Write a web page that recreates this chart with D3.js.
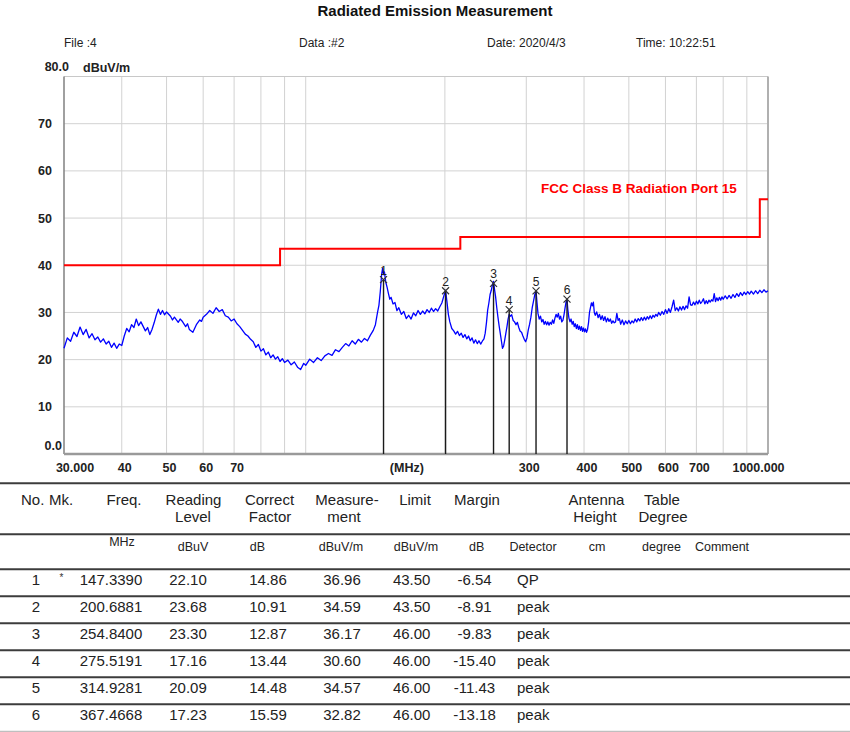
<!DOCTYPE html>
<html>
<head>
<meta charset="utf-8">
<script src="https://cdn.jsdelivr.net/npm/d3@7"></script>
<style>
  body { margin: 0; background: #fff; }
  svg { font-family: "Liberation Sans", Arial, sans-serif; }
  .title { font-size: 15px; font-weight: bold; fill: #111; }
  .head { font-size: 12px; fill: #222; }
  .axis-text { font-size: 12.5px; font-weight: bold; fill: #222; }
  .limit-name { font-size: 13.5px; font-weight: bold; fill: #ff0000; }
  .mark-text { font-size: 12px; fill: #222; }
  .table-head { font-size: 15px; fill: #222; }
  .table-unit { font-size: 12.5px; fill: #222; }
  .table-cell { font-size: 15px; fill: #222; }
</style>
</head>
<body>
<svg id="chart" width="850" height="732"></svg>
<script>
const traceFreq = [
  30, 30.5, 31, 31.5, 32, 32.5, 33, 33.5, 34, 34.5, 35, 35.5, 36, 36.5, 37, 37.5, 38, 38.5, 39, 39.5, 40,
  40.5, 41, 41.5, 42, 42.5, 43, 43.5, 44, 45, 45.5, 46, 46.5, 47, 47.5, 48, 48.5, 49, 49.5, 50,
  51, 51.5, 52, 53, 53.5, 54, 55, 55.5, 56, 57, 57.5, 58, 59, 59.5, 60,
  61, 62, 63, 64, 65, 66, 67, 68, 69, 70, 71, 72, 73, 74, 75, 76, 77, 78, 79, 80,
  81, 82, 83, 84, 85, 86, 87, 88, 89, 90, 91.5, 93, 94.5, 96, 97.5, 99, 100,
  102, 104, 106, 108, 110, 112, 114, 116, 118, 120, 122, 124, 126, 128, 130, 132, 134, 136, 138, 140,
  141.5, 143, 144, 145, 146, 146.7, 147.339, 148, 149, 150, 151, 152, 153, 154.5, 156, 157.5, 159,
  161, 163, 165, 167, 169, 171, 173, 175, 177, 179, 181, 183, 185, 187, 189, 191, 193, 195, 197, 199,
  200.6881, 202, 203.5, 205, 207, 209, 211, 213, 215, 217, 219, 221, 223, 225, 227, 229, 231, 233, 235,
  237, 239, 241, 243, 244.5, 246, 247.5, 249, 250.5, 252, 253.5, 254.84, 256, 257.5, 259, 260.5, 262,
  263.5, 265, 266.5, 268, 269.5, 271, 272.5, 274, 275.5191, 277, 279, 281, 283, 285, 287, 289, 291,
  293, 295, 297, 299, 301, 303, 305, 307, 309, 311, 313, 314.9281, 316.5, 318, 320, 322, 324, 326,
  328, 330, 332, 334, 336, 338, 340, 342, 344, 346, 348, 350, 352, 354, 356, 358, 360, 362, 364, 366,
  367.4668, 369, 371, 373, 375, 377, 379, 381, 383, 385, 387, 389, 391, 393, 395, 397, 399, 401, 403,
  405, 407, 409, 411, 413, 415, 417, 419, 421, 423, 426, 429, 432, 435, 438, 441, 444, 447, 450, 453,
  456, 459, 462, 465, 468, 471, 474, 477, 480, 484, 488, 492, 496, 500, 504, 508, 512, 516, 520, 524,
  528, 532, 536, 540, 544, 548, 552, 556, 560, 564, 568, 572, 576, 580, 585, 590, 595, 600, 605, 610,
  615, 620, 625, 630, 635, 640, 645, 650, 655, 660, 665, 670, 675, 680, 685, 690, 695, 700, 705, 710,
  715, 720, 725, 730, 735, 740, 745, 750, 755, 760, 765, 770, 775, 780, 785, 790, 795, 800, 808, 816,
  824, 832, 840, 848, 856, 864, 872, 880, 888, 896, 904, 912, 920, 930, 940, 950, 960, 970, 980, 990, 1000
];
const traceLevel = [
  22.4, 24.6, 23.9, 25.8, 24.9, 26.9, 25.3, 26.4, 24.6, 25.5, 24.2, 24.8, 23.7, 24.4, 23.3, 23.9, 22.6, 23.5, 22.4, 23.3, 23.0,
  25.0, 26.6, 25.9, 27.4, 26.8, 28.6, 27.2, 28.0, 26.1, 26.8, 25.3, 26.4, 27.8, 29.4, 30.7, 29.6, 30.4, 29.5, 30.1,
  29.2, 28.4, 29.0, 27.9, 28.6, 28.2, 27.0, 27.6, 26.4, 25.8, 26.6, 27.4, 28.4, 28.1, 29.0,
  29.6, 30.4, 29.8, 31.0, 30.2, 30.6, 29.3, 29.0, 28.2, 28.6, 27.6, 27.0, 26.2, 25.4, 25.0, 24.3, 23.8, 22.6, 23.2, 21.8,
  22.3, 21.0, 21.6, 20.4, 21.0, 20.1, 20.6, 19.6, 20.2, 19.4, 19.9, 18.9, 19.5, 18.4, 17.9, 19.2, 18.8,
  20.1, 19.4, 20.4, 19.8, 20.8, 21.3, 20.9, 22.1, 21.7, 22.6, 23.4, 22.9, 24.0, 23.3, 24.3, 23.7, 24.5, 24.0, 25.2, 26.2,
  27.4, 30.0, 31.5, 34.5, 38.2, 39.4, 38.0, 38.6, 36.4, 35.3, 34.0, 32.8, 33.2, 31.8, 32.1, 30.4, 31.0,
  29.6, 30.2, 28.7, 29.4, 28.6, 29.9, 29.3, 30.4, 29.6, 30.3, 29.7, 30.6, 30.0, 30.9, 30.2, 30.8, 30.3, 31.2, 32.0, 33.5,
  34.7, 32.4, 29.6, 28.0, 26.6, 26.1, 25.4, 26.0, 25.1, 25.6, 24.7, 25.3, 24.4, 25.0, 24.0, 24.6, 23.5, 24.2, 23.4,
  24.0, 23.3, 23.9, 24.4, 25.6, 27.8, 30.5, 32.0, 33.8, 34.7, 35.9, 36.6, 35.0, 33.3, 31.0, 29.0, 27.2,
  25.6, 24.0, 22.4, 22.9, 24.2, 25.6, 27.0, 28.6, 29.6, 29.2, 29.5, 28.3, 28.0, 27.4, 27.9, 26.8, 26.0,
  25.8, 25.0, 24.3, 23.8, 24.6, 26.3, 27.5, 29.0, 31.0, 32.4, 33.8, 34.6, 32.0, 29.8, 28.6, 29.2, 28.0, 28.5,
  27.5, 28.1, 27.4, 28.0, 27.3, 27.9, 27.5, 28.4, 27.7, 28.8, 29.6, 29.0, 29.8, 28.6, 29.2, 28.0, 28.3, 29.5, 31.0, 32.4,
  32.8, 30.6, 28.8, 28.0, 28.6, 27.5, 28.1, 27.0, 27.6, 26.6, 27.4, 26.4, 27.1, 26.2, 27.0, 26.0, 26.7, 25.9, 26.5,
  25.8, 26.4, 27.8, 30.0, 31.0, 32.0, 31.4, 32.2, 30.0, 29.4, 30.1, 28.9, 29.6, 28.5, 29.3, 28.3, 29.1, 28.0, 28.8, 28.1,
  28.6, 27.7, 28.2, 27.8, 28.0, 29.8, 28.3, 28.7, 27.5, 28.4, 27.4, 28.2, 27.6, 28.3, 27.6, 28.2, 27.8, 28.6, 28.0, 28.7,
  28.2, 28.9, 28.3, 29.0, 28.4, 29.1, 28.6, 29.3, 28.7, 29.4, 29.0, 29.6, 29.2, 30.0, 29.4, 30.2, 29.6, 30.6, 29.8, 30.8,
  30.0, 31.2, 32.6, 30.4, 31.0, 30.3, 31.2, 30.5, 31.3, 30.6, 31.4, 30.9, 33.3, 31.6, 31.5, 32.2, 31.6, 32.4, 31.8, 32.6,
  31.9, 32.3, 32.9, 31.8, 32.5, 31.9, 32.6, 32.2, 32.7, 32.4, 34.0, 32.3, 33.1, 32.5, 33.2, 32.6, 33.3, 32.8, 33.5, 32.9,
  33.6, 33.0, 33.8, 33.2, 34.0, 33.4, 34.2, 33.6, 34.3, 33.8, 34.4, 33.9, 34.5, 33.9, 34.6, 34.0, 34.7, 34.2, 34.8, 34.3, 34.6
];

// limit line, step after each frequency
const limitFreq = [30, 88, 216, 960, 1000];
const limitLevel = [40, 43.5, 46, 54, 54];
const limitName = "FCC Class B Radiation Port 15";

// marker table
const markNo = [1, 2, 3, 4, 5, 6];
const markFlag = ["*", "", "", "", "", ""];
const markFreq = [147.3390, 200.6881, 254.8400, 275.5191, 314.9281, 367.4668];
const readingLevel = [22.10, 23.68, 23.30, 17.16, 20.09, 17.23];
const correctFactor = [14.86, 10.91, 12.87, 13.44, 14.48, 15.59];
const measurement = [36.96, 34.59, 36.17, 30.60, 34.57, 32.82];
const limitValue = [43.50, 43.50, 46.00, 46.00, 46.00, 46.00];
const marginValue = [-6.54, -8.91, -9.83, -15.40, -11.43, -13.18];
const detector = ["QP", "peak", "peak", "peak", "peak", "peak"];

// axes
const yTicks = [0, 10, 20, 30, 40, 50, 60, 70, 80];
const yTickLabels = ["0.0", "10", "20", "30", "40", "50", "60", "70", "80.0"];
const gridFreqs = [40, 50, 60, 70, 80, 90, 100, 200, 300, 400, 500, 600, 700, 800, 900];
const xTickFreqs = [30, 40, 50, 60, 70, 163, 300, 400, 500, 600, 700, 1000];
const xTickLabels = ["30.000", "40", "50", "60", "70", "(MHz)", "300", "400", "500", "600", "700", "1000.000"];

const headerInfo = ["File :4", "Data :#2", "Date: 2020/4/3", "Time: 10:22:51"];

const translate = function(a, b) {
  return "translate(" + a + ", " + b + ")";
};

const svg = d3.select("#chart");

const margin = { top: 76.5, left: 64 };
const plotWidth = 704;
const plotHeight = 377.5;

let x = d3.scaleLog().domain([30, 1000]).range([0, plotWidth]);
let y = d3.scaleLinear().domain([0, 80]).range([plotHeight, 0]);

// title + header line
svg.append("text")
  .attr("class", "title")
  .attr("x", 435)
  .attr("y", 16)
  .attr("text-anchor", "middle")
  .text("Radiated Emission Measurement");

const headerX = [64, 299, 487, 636];
svg.selectAll("text.head")
  .data(headerInfo)
  .enter()
  .append("text")
  .attr("class", "head")
  .attr("x", (d, i) => headerX[i])
  .attr("y", 47)
  .text(d => d);

let plot = svg.append("g").attr("transform", translate(margin.left, margin.top));

// grid
plot.selectAll("line.vgrid")
  .data(gridFreqs)
  .enter()
  .append("line")
  .attr("class", "vgrid")
  .attr("x1", d => x(d)).attr("x2", d => x(d))
  .attr("y1", 0).attr("y2", plotHeight)
  .style("stroke", "#d2d2d2")
  .style("stroke-width", 1);

plot.selectAll("line.hgrid")
  .data(yTicks.slice(1, -1))
  .enter()
  .append("line")
  .attr("class", "hgrid")
  .attr("x1", 0).attr("x2", plotWidth)
  .attr("y1", d => y(d)).attr("y2", d => y(d))
  .style("stroke", "#d2d2d2")
  .style("stroke-width", 1);

// frame
plot.append("line").attr("x1", 0).attr("x2", plotWidth).attr("y1", 0).attr("y2", 0)
  .style("stroke", "#c8c8c8");
plot.append("line").attr("x1", plotWidth).attr("x2", plotWidth).attr("y1", 0).attr("y2", plotHeight)
  .style("stroke", "#b0b0b0").style("stroke-width", 2);
plot.append("line").attr("x1", 0).attr("x2", 0).attr("y1", 0).attr("y2", plotHeight)
  .style("stroke", "#808080").style("stroke-width", 1.5);
plot.append("line").attr("x1", 0).attr("x2", plotWidth).attr("y1", plotHeight).attr("y2", plotHeight)
  .style("stroke", "#9a9a9a").style("stroke-width", 2.5);

// limit
let limitLine = d3.line()
  .x((d, i) => x(limitFreq[i]))
  .y((d, i) => y(limitLevel[i]))
  .curve(d3.curveStepAfter);

plot.append("path")
  .datum(limitFreq)
  .attr("d", limitLine)
  .style("fill", "none")
  .style("stroke", "#ff0000")
  .style("stroke-width", 2);

plot.append("text")
  .attr("class", "limit-name")
  .attr("x", 477)
  .attr("y", 116)
  .text(limitName);

// trace
let traceLine = d3.line()
  .x((d, i) => x(traceFreq[i]))
  .y((d, i) => y(traceLevel[i]));

plot.append("path")
  .datum(traceFreq)
  .attr("d", traceLine)
  .style("fill", "none")
  .style("stroke", "#0000ff")
  .style("stroke-width", 1.3)
  .style("stroke-linejoin", "round");

// markers
let marks = plot.selectAll("g.mark")
  .data(markNo)
  .enter()
  .append("g")
  .attr("class", "mark")
  .attr("transform", (d, i) => translate(x(markFreq[i]), y(measurement[i])));

marks.append("line")
  .attr("x1", 0).attr("x2", 0)
  .attr("y1", 0)
  .attr("y2", (d, i) => plotHeight - y(measurement[i]))
  .style("stroke", "#1a1a1a")
  .style("stroke-width", 1.4);

marks.append("path")
  .attr("d", "M-3.5,-3.5L3.5,3.5M-3.5,3.5L3.5,-3.5")
  .style("stroke", "#333")
  .style("stroke-width", 1.2);

marks.append("text")
  .attr("class", "mark-text")
  .attr("text-anchor", "middle")
  .attr("y", -5)
  .text(d => d);

// x axis labels
let xAxis = d3.axisBottom(x)
  .tickValues(xTickFreqs)
  .tickFormat((d, i) => xTickLabels[i])
  .tickSize(0)
  .tickPadding(9);

let xGroup = plot.append("g").attr("transform", translate(0, plotHeight)).call(xAxis);
xGroup.select(".domain").remove();
xGroup.selectAll(".tick text")
  .attr("class", "axis-text")
  .attr("font-size", null)
  .attr("font-family", null)
  .attr("dx", (d, i) => i == 0 ? 10.5 : (i == xTickFreqs.length - 1 ? -10 : 2.5));

// y axis labels; the 0.0 and 80.0 ends sit a bit further right
let yAxis = d3.axisLeft(y)
  .tickValues(yTicks)
  .tickFormat((d, i) => yTickLabels[i])
  .tickSize(0)
  .tickPadding(12);

let yGroup = plot.append("g").call(yAxis);
yGroup.select(".domain").remove();
yGroup.selectAll(".tick text")
  .attr("class", "axis-text")
  .attr("font-size", null)
  .attr("font-family", null)
  .attr("x", d => d == 0 ? -2 : (d == 80 ? 5 : -12))
  .attr("dy", d => d == 0 ? "-0.35em" : (d == 80 ? "-0.45em" : "0.32em"));

plot.append("text")
  .attr("class", "axis-text")
  .attr("x", 19)
  .attr("y", y(80) - 5)
  .text("dBuV/m");

// table
const ruleY = [483.3, 534.3, 569.3];
const rowTop = 569.3;
const rowHeight = 27;

svg.selectAll("line.rule")
  .data(ruleY.concat(markNo.map((d, i) => rowTop + (i + 1) * rowHeight)))
  .enter()
  .append("line")
  .attr("class", "rule")
  .attr("x1", 0).attr("x2", 850)
  .attr("y1", d => d).attr("y2", d => d)
  .style("stroke", (d, i) => i == ruleY.length + markNo.length - 1 ? "#b0b0b0" : "#3c3c3c")
  .style("stroke-width", (d, i) => i == ruleY.length + markNo.length - 1 ? 1 : 2);

const headLine1 = [
  ["No.", 21, "start"], ["Mk.", 49, "start"], ["Freq.", 124, "middle"], ["Reading", 193.5, "middle"],
  ["Correct", 269.5, "middle"], ["Measure-", 347, "middle"], ["Limit", 415, "middle"],
  ["Margin", 477, "middle"], ["Antenna", 596.5, "middle"], ["Table", 662, "middle"]
];
const headLine2 = [
  ["Level", 193, "middle"], ["Factor", 270, "middle"], ["ment", 344, "middle"],
  ["Height", 595, "middle"], ["Degree", 663, "middle"]
];
const unitLine = [
  ["MHz", 122, 546], ["dBuV", 193, 551], ["dB", 257.5, 551], ["dBuV/m", 341, 551],
  ["dBuV/m", 416, 551], ["dB", 476.7, 551], ["Detector", 533, 551], ["cm", 597, 551],
  ["degree", 661.5, 551], ["Comment", 722, 551]
];

let addHead = function(list, yPos) {
  list.forEach(function(h) {
    svg.append("text")
      .attr("class", "table-head")
      .attr("x", h[1])
      .attr("y", yPos)
      .attr("text-anchor", h[2])
      .text(h[0]);
  });
};
addHead(headLine1, 505);
addHead(headLine2, 522);

unitLine.forEach(function(u) {
  svg.append("text")
    .attr("class", "table-unit")
    .attr("x", u[1])
    .attr("y", u[2])
    .attr("text-anchor", "middle")
    .text(u[0]);
});

let rows = svg.selectAll("g.row")
  .data(markNo)
  .enter()
  .append("g")
  .attr("class", "row")
  .attr("transform", (d, i) => translate(0, rowTop + i * rowHeight + 15.5));

const cellX = [36, 111, 188, 268, 342, 411.7, 474.5];
rows.each(function(d, i) {
  let row = d3.select(this);
  let cells = [
    String(markNo[i]),
    markFreq[i].toFixed(4),
    readingLevel[i].toFixed(2),
    correctFactor[i].toFixed(2),
    measurement[i].toFixed(2),
    limitValue[i].toFixed(2),
    marginValue[i].toFixed(2)
  ];
  cells.forEach(function(c, j) {
    row.append("text")
      .attr("class", "table-cell")
      .attr("x", cellX[j])
      .attr("text-anchor", "middle")
      .text(c);
  });
  row.append("text")
    .attr("class", "table-cell")
    .attr("x", 517)
    .text(detector[i]);
  if (markFlag[i]) {
    row.append("text")
      .attr("x", 61.5)
      .attr("y", -4)
      .attr("text-anchor", "middle")
      .style("font-size", "10px")
      .style("fill", "#333")
      .text(markFlag[i]);
  }
});
</script>
</body>
</html>
